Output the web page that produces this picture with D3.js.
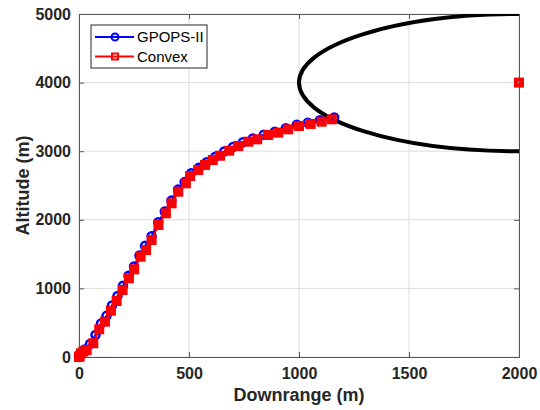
<!DOCTYPE html>
<html>
<head>
<meta charset="utf-8">
<script src="https://cdn.jsdelivr.net/npm/d3@7"></script>
<style>
  body { margin: 0; background: #fff; }
  text { font-family: "Liberation Sans", Arial, sans-serif; }
</style>
</head>
<body>
<div id="chart"></div>
<script>

// trajectory from GPOPS-II
var gpopsX = [0, 5, 25, 50, 75, 100, 125, 150, 175, 200, 225, 250, 275, 300, 330, 360, 390, 420, 450, 480,
              510, 545, 580, 620, 660, 700, 745, 790, 840, 890, 940, 990, 1040, 1095, 1160];
var gpopsY = [0, 40, 110, 190, 320, 490, 600, 750, 890, 1040, 1185, 1320, 1480, 1620, 1760, 1965, 2120, 2280, 2440, 2550,
              2680, 2760, 2840, 2920, 2995, 3060, 3130, 3185, 3240, 3285, 3335, 3385, 3415, 3450, 3490];

// trajectory from convex solver
var convexX = [0, 3, 9, 20, 35, 65, 92, 118, 145, 171, 198, 227, 251, 280, 305, 330, 361, 395, 421, 451,
               486, 505, 542, 573, 608, 641, 683, 724, 770, 810, 860, 906, 951, 1000, 1053, 1103, 1149];
var convexY = [0, 15, 54, 80, 102, 200, 404, 515, 675, 816, 977, 1147, 1278, 1462, 1560, 1705, 1924, 2095, 2240, 2410,
               2532, 2638, 2726, 2799, 2872, 2934, 3007, 3076, 3139, 3173, 3236, 3270, 3319, 3367, 3397, 3430, 3465];

// target point and elliptic region around it
var targetX = [2000];
var targetY = [4000];
var ellipseCenter = [2000, 4000];
var ellipseRadius = [1000, 1000];

var xTicks = [0, 500, 1000, 1500, 2000];
var yTicks = [0, 1000, 2000, 3000, 4000, 5000];

var W = 540, H = 410;
var margin = {left: 79, top: 14, right: 21, bottom: 53};
var w = W - margin.left - margin.right;
var h = H - margin.top - margin.bottom;

var svg = d3.select("#chart").append("svg")
    .attr("width", W)
    .attr("height", H);

var x = d3.scaleLinear().domain([0, 2000]).range([0, w]);
var y = d3.scaleLinear().domain([0, 5000]).range([h, 0]);

var g = svg.append("g")
    .attr("transform", "translate(" + margin.left + "," + margin.top + ")");

g.append("defs").append("clipPath").attr("id", "clip")
  .append("rect").attr("width", w).attr("height", h);

// grid
g.selectAll(".gx").data(xTicks).enter().append("line")
    .attr("x1", function(d) { return x(d); }).attr("x2", function(d) { return x(d); })
    .attr("y1", 0).attr("y2", h)
    .attr("stroke", "#dcdcdc").attr("stroke-width", 1);
g.selectAll(".gy").data(yTicks).enter().append("line")
    .attr("y1", function(d) { return y(d); }).attr("y2", function(d) { return y(d); })
    .attr("x1", 0).attr("x2", w)
    .attr("stroke", "#dcdcdc").attr("stroke-width", 1);

// axes (MATLAB style, ticks inward, box on)
var axColor = "#262626";
var fmt = d3.format("d");
var xAxis = g.append("g").attr("transform", "translate(0," + h + ")")
    .call(d3.axisBottom(x).tickValues(xTicks).tickSize(-5).tickPadding(11).tickFormat(fmt));
var yAxis = g.append("g")
    .call(d3.axisLeft(y).tickValues(yTicks).tickSize(-5).tickPadding(8).tickFormat(fmt));
var xTop = g.append("g")
    .call(d3.axisTop(x).tickValues(xTicks).tickSize(-5).tickFormat(""));
var yRight = g.append("g").attr("transform", "translate(" + w + ",0)")
    .call(d3.axisRight(y).tickValues(yTicks).tickSize(-5).tickFormat(""));

[xAxis, yAxis, xTop, yRight].forEach(function(a) {
  a.select(".domain").attr("stroke", "#555").attr("stroke-width", 1);
  a.selectAll(".tick line").attr("stroke", "#555");
  a.selectAll("text")
    .attr("font-family", "'Liberation Sans', Arial, sans-serif")
    .attr("font-size", "16px")
    .attr("font-weight", "bold")
    .attr("fill", axColor);
});

// ellipse region
var plot = g.append("g").attr("clip-path", "url(#clip)");
plot.append("ellipse")
    .attr("cx", x(ellipseCenter[0]))
    .attr("cy", y(ellipseCenter[1]))
    .attr("rx", x(ellipseCenter[0] + ellipseRadius[0]) - x(ellipseCenter[0]))
    .attr("ry", y(ellipseCenter[1]) - y(ellipseCenter[1] + ellipseRadius[1]))
    .attr("fill", "none")
    .attr("stroke", "#000")
    .attr("stroke-width", 4);

var gpops = gpopsX.map(function(d, i) { return [d, gpopsY[i]]; });
var convex = convexX.map(function(d, i) { return [d, convexY[i]]; });
var target = targetX.map(function(d, i) { return [d, targetY[i]]; });

var line = d3.line()
    .x(function(d) { return x(d[0]); })
    .y(function(d) { return y(d[1]); });

// GPOPS-II
g.append("path").datum(gpops)
    .attr("d", line)
    .attr("fill", "none")
    .attr("stroke", "#0000ff")
    .attr("stroke-width", 2);
g.selectAll(".gp").data(gpops).enter().append("circle")
    .attr("cx", function(d) { return x(d[0]); })
    .attr("cy", function(d) { return y(d[1]); })
    .attr("r", 4)
    .attr("fill", "none")
    .attr("stroke", "#0000ff")
    .attr("stroke-width", 2.5);

// Convex
g.append("path").datum(convex)
    .attr("d", line)
    .attr("fill", "none")
    .attr("stroke", "#ff0000")
    .attr("stroke-width", 2);
function squares(sel, data, cls) {
  sel.selectAll("." + cls).data(data).enter().append("rect")
    .attr("x", function(d) { return x(d[0]) - 3; })
    .attr("y", function(d) { return y(d[1]) - 3; })
    .attr("width", 6)
    .attr("height", 6)
    .attr("fill", "none")
    .attr("stroke", "#ff0000")
    .attr("stroke-width", 4);
}
squares(g, convex, "cv");
squares(g, target, "tg");

// legend
var lg = svg.append("g").attr("transform", "translate(91,25)");
lg.append("rect")
    .attr("width", 116).attr("height", 43)
    .attr("fill", "#fff")
    .attr("stroke", "#262626")
    .attr("stroke-width", 1);

var items = [
  {label: "GPOPS-II", color: "#0000ff", marker: "circle"},
  {label: "Convex", color: "#ff0000", marker: "square"}
];
var it = lg.selectAll(".item").data(items).enter().append("g")
    .attr("transform", function(d, i) { return "translate(0," + (12 + i * 19.5) + ")"; });
it.append("line")
    .attr("x1", 4).attr("x2", 43)
    .attr("stroke", function(d) { return d.color; })
    .attr("stroke-width", 2);
it.each(function(d) {
  var s = d3.select(this);
  if (d.marker == "circle") {
    s.append("circle").attr("cx", 24).attr("cy", 0).attr("r", 3.5)
      .attr("fill", "none").attr("stroke", d.color).attr("stroke-width", 2);
  } else {
    s.append("rect").attr("x", 21).attr("y", -3).attr("width", 6).attr("height", 6)
      .attr("fill", "none").attr("stroke", d.color).attr("stroke-width", 2);
  }
});
it.append("text")
    .attr("x", 46)
    .attr("dy", "0.36em")
    .attr("font-size", "15px")
    .attr("fill", "#000")
    .text(function(d) { return d.label; });

// axis labels
svg.append("text")
    .attr("x", margin.left + w / 2)
    .attr("y", 401)
    .attr("text-anchor", "middle")
    .attr("font-size", "18px")
    .attr("font-weight", "bold")
    .attr("fill", axColor)
    .text("Downrange (m)");

svg.append("text")
    .attr("transform", "translate(29," + (margin.top + h / 2) + ") rotate(-90)")
    .attr("text-anchor", "middle")
    .attr("font-size", "18px")
    .attr("font-weight", "bold")
    .attr("fill", axColor)
    .text("Altitude (m)");

</script>
</body>
</html>
